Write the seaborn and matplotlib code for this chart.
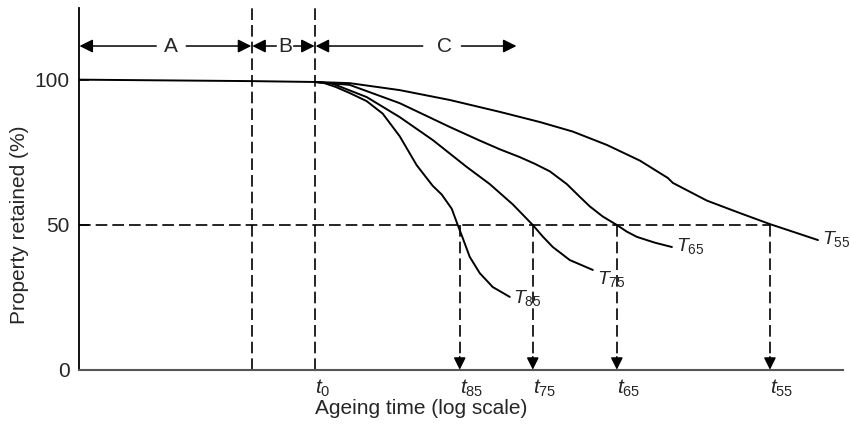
import numpy as np
import pandas as pd
import matplotlib
matplotlib.use("Agg")
import matplotlib.pyplot as plt
import seaborn as sns

sns.set_theme(style="ticks")
plt.rcParams["font.family"] = ["Liberation Sans", "DejaVu Sans"]
plt.rcParams["mathtext.fontset"] = "custom"
plt.rcParams["mathtext.rm"] = "Liberation Sans"
plt.rcParams["mathtext.it"] = "Liberation Sans:italic"

# ageing time (arbitrary log units) and property retained (%)
base_x = [0.0, 17.2, 23.55]
base_y = [100.0, 99.5, 99.2]

t85_x = [23.55, 24.3, 25.6, 27.0, 28.7, 30.3, 32.0, 33.7, 35.3, 36.2, 37.2, 37.8, 38.3,
         39.0, 40.0, 41.3, 43.0]
t85_y = [99.2, 99.0, 97.5, 95.4, 92.6, 88.3, 80.5, 70.5, 63.4, 60.4, 55.5, 49.9, 45.4,
         38.9, 33.3, 28.5, 25.1]

t75_x = [23.55, 25.3, 28.7, 32.0, 35.3, 38.7, 41.0, 43.3, 45.3, 46.3, 47.3, 49.0, 51.3]
t75_y = [99.2, 98.6, 94.0, 87.1, 79.2, 69.9, 64.0, 57.0, 49.9, 45.9, 42.3, 37.8, 34.4]

t65_x = [23.55, 27.0, 32.0, 37.0, 40.0, 42.0, 44.0, 45.5, 47.0, 48.7, 50.0, 51.0, 52.3,
         53.7, 54.7, 55.7, 57.5, 59.2]
t65_y = [99.2, 98.2, 91.9, 83.7, 79.0, 76.0, 73.3, 71.0, 68.4, 64.0, 59.6, 56.3, 52.8,
         49.9, 47.6, 45.8, 43.8, 42.3]

t55_x = [23.55, 27.0, 32.0, 37.0, 42.0, 46.0, 49.3, 52.7, 56.0, 58.8, 59.3, 62.7, 66.0,
         69.0, 73.8]
t55_y = [99.2, 98.8, 96.4, 93.0, 88.9, 85.4, 82.1, 77.5, 72.1, 66.1, 64.4, 58.3, 54.0,
         50.2, 44.7]

curve_names = ["base", "T85", "T75", "T65", "T55"]
curve_labels = ["$T_{85}$", "$T_{75}$", "$T_{65}$", "$T_{55}$"]
label_x = [43.3, 51.7, 59.6, 74.2]
label_y = [24.7, 31.3, 42.7, 45.1]

t_ticks = [23.55, 38.0, 45.3, 53.7, 69.0]
t_labels = ["$t_0$", "$t_{85}$", "$t_{75}$", "$t_{65}$", "$t_{55}$"]
stage_lines = [17.2, 23.55]

# stage arrows: letter, letter x, left arrow from->to, right arrow from->to
stage_names = ["A", "B", "C"]
stage_text_x = [9.15, 20.55, 36.45]
stage_left = [(7.67, 0.0), (19.67, 17.27), (34.3, 23.6)]
stage_right = [(10.67, 17.17), (21.4, 23.5), (38.17, 43.67)]
stage_y = 111.6

frames = []
for name, xs, ys in zip(curve_names,
                        [base_x, t85_x, t75_x, t65_x, t55_x],
                        [base_y, t85_y, t75_y, t65_y, t55_y]):
    frames.append(pd.DataFrame({"time": xs, "retained": ys, "curve": name}))
df = pd.concat(frames, ignore_index=True)

fig = plt.figure(figsize=(8.5, 4.29), dpi=100)
ax = fig.add_axes([0.0935, 0.1382, 0.8979, 0.8431])

sns.lineplot(data=df, x="time", y="retained", units="curve", estimator=None,
             sort=False, color="black", lw=1.4, ax=ax)

dash = (0, (7, 3))
ax.plot([0, t_ticks[-1]], [50, 50], color="black", lw=1.2, ls=dash)
for xv in stage_lines:
    ax.plot([xv, xv], [0, 124.7], color="black", lw=1.2, ls=dash)
for xv in t_ticks[1:]:
    ax.plot([xv, xv], [50, 3], color="black", lw=1.2, ls=dash)
    ax.annotate("", xy=(xv, 0), xytext=(xv, 4.5),
                arrowprops=dict(arrowstyle="-|>", mutation_scale=18, lw=1.1,
                                color="black", shrinkA=0, shrinkB=0))

fs = 15
for lab, lx, ly in zip(curve_labels, label_x, label_y):
    ax.text(lx, ly, lab, fontsize=14, ha="left", va="center")

for name, tx, (l0, l1), (r0, r1) in zip(stage_names, stage_text_x, stage_left, stage_right):
    ax.text(tx, stage_y, name, fontsize=fs, ha="center", va="center")
    for a, b in [(l0, l1), (r0, r1)]:
        ax.annotate("", xy=(b, stage_y), xytext=(a, stage_y),
                    arrowprops=dict(arrowstyle="-|>", mutation_scale=20, lw=1.1,
                                    color="black", shrinkA=0, shrinkB=0))

ax.set_xlim(0, 76.27)
ax.set_ylim(0, 124.7)
ax.set_xticks(t_ticks)
ax.set_xticklabels(t_labels, fontsize=fs)
for tl in ax.get_xticklabels():
    tl.set_horizontalalignment("left")
ax.set_yticks([0, 50, 100])
ax.set_yticklabels(["0", "50", "100"], fontsize=fs)
ax.tick_params(axis="x", length=0, pad=6)
ax.tick_params(axis="y", direction="in", length=7.5, width=1.1, pad=7, color="black")

ax.set_xlabel("Ageing time (log scale)", fontsize=fs)
ax.xaxis.set_label_coords(0.4475, -0.082)
ax.xaxis.label.set_verticalalignment("top")
ax.set_ylabel("Property retained (%)", fontsize=fs)
ax.yaxis.set_label_coords(-0.066, 0.40)

sns.despine(ax=ax)
ax.spines["left"].set_color("black")
ax.spines["left"].set_linewidth(1.3)
ax.spines["bottom"].set_color("#555555")
ax.spines["bottom"].set_linewidth(1.5)

fig.savefig("out.png", dpi=100)
